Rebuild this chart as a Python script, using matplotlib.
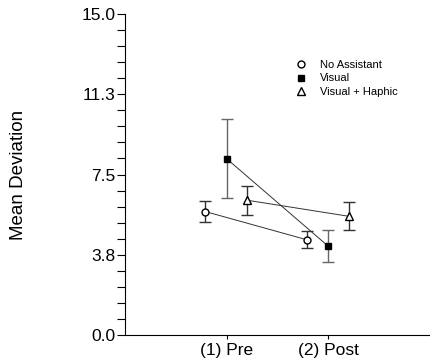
import matplotlib.pyplot as plt
import numpy as np

# datos
fases = ['(1) Pre', '(2) Post']
x_fase = [1, 2]

series = ['No Assistant', 'Visual', 'Visual + Haphic']
medias = {
    'No Assistant': [5.77, 4.45],
    'Visual': [8.24, 4.15],
    'Visual + Haphic': [6.30, 5.55],
}
errores = {
    'No Assistant': [0.47, 0.40],
    'Visual': [1.85, 0.75],
    'Visual + Haphic': [0.68, 0.65],
}
desplaz = {'No Assistant': -0.21, 'Visual': 0.0, 'Visual + Haphic': 0.2}

yticks = [0.0, 3.75, 7.5, 11.25, 15.0]
yticklabels = ['0.0', '3.8', '7.5', '11.3', '15.0']

plt.rcParams['font.family'] = ['Liberation Sans', 'DejaVu Sans']

fig = plt.figure(figsize=(4.3, 3.6), dpi=100)
ax = fig.add_axes([0.2907, 0.0694, 0.709, 0.8916])

estilos = {
    'No Assistant': dict(marker='o', mfc='white', mec='black', ms=5),
    'Visual': dict(marker='s', mfc='black', mec='black', ms=5),
    'Visual + Haphic': dict(marker='^', mfc='white', mec='black', ms=6),
}
color_err = {'No Assistant': '#333333', 'Visual': '#666666', 'Visual + Haphic': '#333333'}

for s in series:
    xs = np.array(x_fase) + desplaz[s]
    ax.plot(xs, medias[s], color='#333333', lw=0.7, zorder=2)
    ax.errorbar(xs, medias[s], yerr=errores[s], fmt='none', ecolor=color_err[s],
                elinewidth=1.0, capsize=4, capthick=1.0, zorder=3)
    ax.plot(xs, medias[s], linestyle='none', label=s, zorder=4, **estilos[s])

ax.set_xlim(0, 3)
ax.set_ylim(0, 15)
ax.set_xticks(x_fase)
ax.set_xticklabels(fases, fontsize=12.5)
ax.set_yticks(yticks)
ax.set_yticklabels(yticklabels, fontsize=12.5)
ax.set_yticks(np.arange(0, 15.01, 0.75), minor=True)
ax.tick_params(axis='y', which='both', direction='out', length=6, width=0.8, pad=1)
ax.tick_params(axis='x', direction='out', length=3, width=0.8, pad=3)

for lado in ['top', 'right']:
    ax.spines[lado].set_visible(False)
ax.spines['left'].set_linewidth(0.8)
ax.spines['bottom'].set_linewidth(0.8)

ax.set_ylabel('Mean Deviation', fontsize=13.5)
ax.yaxis.set_label_coords(-0.322, 0.5)

ax.legend(loc='upper left', bbox_to_anchor=(0.54, 0.873), frameon=False, fontsize=8,
          handlelength=1.0, handletextpad=1.2, labelspacing=0.28, borderpad=0)

fig.savefig('out.png', dpi=100)
